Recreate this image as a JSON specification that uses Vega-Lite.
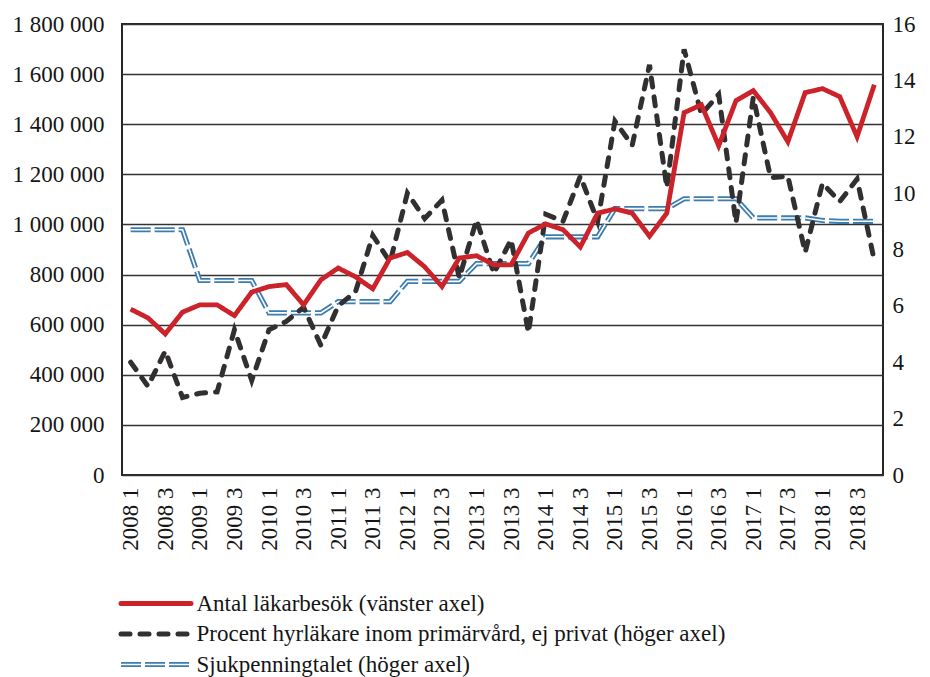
{
  "$schema": "https://vega.github.io/schema/vega-lite/v6.json",
  "autosize": "none",
  "width": 761,
  "height": 451,
  "padding": {"left": 122, "top": 24, "right": 47, "bottom": 202},
  "background": "white",
  "config": {
    "locale": {"number": {"decimal": ",", "thousands": " ", "grouping": [3], "currency": ["", ""]}},
    "font": "Liberation Serif",
    "view": {"stroke": "#262626", "strokeWidth": 2},
    "axis": {"labelFont": "Liberation Serif", "labelFontSize": 23, "labelColor": "#151515", "domain": false, "ticks": false, "title": null},
    "legend": {"labelFont": "Liberation Serif", "labelFontSize": 23, "labelColor": "#151515", "labelLimit": 0}
  },
  "data": {"values": [
    {"q": "2008 1", "lak": 662000, "hyr": 4.0, "sjuk": 8.7},
    {"q": "2008 2", "lak": 627000, "hyr": 3.15, "sjuk": 8.7},
    {"q": "2008 3", "lak": 563000, "hyr": 4.4, "sjuk": 8.7},
    {"q": "2008 4", "lak": 650000, "hyr": 2.75, "sjuk": 8.7},
    {"q": "2009 1", "lak": 679000, "hyr": 2.9, "sjuk": 6.9},
    {"q": "2009 2", "lak": 679000, "hyr": 2.95, "sjuk": 6.9},
    {"q": "2009 3", "lak": 636000, "hyr": 5.15, "sjuk": 6.9},
    {"q": "2009 4", "lak": 730000, "hyr": 3.35, "sjuk": 6.9},
    {"q": "2010 1", "lak": 752000, "hyr": 5.15, "sjuk": 5.75},
    {"q": "2010 2", "lak": 760000, "hyr": 5.45, "sjuk": 5.75},
    {"q": "2010 3", "lak": 679000, "hyr": 5.95, "sjuk": 5.75},
    {"q": "2010 4", "lak": 779000, "hyr": 4.6, "sjuk": 5.75},
    {"q": "2011 1", "lak": 826000, "hyr": 6.0, "sjuk": 6.15},
    {"q": "2011 2", "lak": 791000, "hyr": 6.5, "sjuk": 6.15},
    {"q": "2011 3", "lak": 743000, "hyr": 8.5, "sjuk": 6.15},
    {"q": "2011 4", "lak": 866000, "hyr": 7.55, "sjuk": 6.15},
    {"q": "2012 1", "lak": 888000, "hyr": 10.0, "sjuk": 6.87},
    {"q": "2012 2", "lak": 831000, "hyr": 9.1, "sjuk": 6.87},
    {"q": "2012 3", "lak": 752000, "hyr": 9.75, "sjuk": 6.87},
    {"q": "2012 4", "lak": 866000, "hyr": 7.0, "sjuk": 6.87},
    {"q": "2013 1", "lak": 875000, "hyr": 9.05, "sjuk": 7.5},
    {"q": "2013 2", "lak": 839000, "hyr": 7.15, "sjuk": 7.5},
    {"q": "2013 3", "lak": 839000, "hyr": 8.35, "sjuk": 7.5},
    {"q": "2013 4", "lak": 966000, "hyr": 5.05, "sjuk": 7.5},
    {"q": "2014 1", "lak": 1002000, "hyr": 9.25, "sjuk": 8.45},
    {"q": "2014 2", "lak": 979000, "hyr": 9.0, "sjuk": 8.45},
    {"q": "2014 3", "lak": 910000, "hyr": 10.6, "sjuk": 8.45},
    {"q": "2014 4", "lak": 1045000, "hyr": 9.0, "sjuk": 8.45},
    {"q": "2015 1", "lak": 1062000, "hyr": 12.55, "sjuk": 9.45},
    {"q": "2015 2", "lak": 1045000, "hyr": 11.7, "sjuk": 9.45},
    {"q": "2015 3", "lak": 953000, "hyr": 14.55, "sjuk": 9.45},
    {"q": "2015 4", "lak": 1045000, "hyr": 10.2, "sjuk": 9.45},
    {"q": "2016 1", "lak": 1446000, "hyr": 15.1, "sjuk": 9.8},
    {"q": "2016 2", "lak": 1478000, "hyr": 12.8, "sjuk": 9.8},
    {"q": "2016 3", "lak": 1314000, "hyr": 13.5, "sjuk": 9.8},
    {"q": "2016 4", "lak": 1494000, "hyr": 8.95, "sjuk": 9.8},
    {"q": "2017 1", "lak": 1534000, "hyr": 13.4, "sjuk": 9.12},
    {"q": "2017 2", "lak": 1446000, "hyr": 10.55, "sjuk": 9.12},
    {"q": "2017 3", "lak": 1330000, "hyr": 10.6, "sjuk": 9.12},
    {"q": "2017 4", "lak": 1526000, "hyr": 7.9, "sjuk": 9.12},
    {"q": "2018 1", "lak": 1542000, "hyr": 10.35, "sjuk": 9.03},
    {"q": "2018 2", "lak": 1510000, "hyr": 9.7, "sjuk": 9.0},
    {"q": "2018 3", "lak": 1350000, "hyr": 10.5, "sjuk": 9.0},
    {"q": "2018 4", "lak": 1558000, "hyr": 7.6, "sjuk": 9.0}
  ]},
  "transform": [{"fold": ["lak", "hyr", "sjuk"], "as": ["serie", "value"]}],
  "encoding": {
    "x": {
      "field": "q", "type": "ordinal", "sort": null,
      "scale": {"type": "point", "padding": 0.5},
      "axis": {
        "values": ["2008 1","2008 3","2009 1","2009 3","2010 1","2010 3","2011 1","2011 3","2012 1","2012 3","2013 1","2013 3","2014 1","2014 3","2015 1","2015 3","2016 1","2016 3","2017 1","2017 3","2018 1","2018 3"],
        "labelAngle": -90, "labelPadding": 12, "grid": false
      }
    }
  },
  "layer": [
    {
      "layer": [
        {
          "transform": [{"filter": "datum.serie === 'sjuk'"}],
          "mark": {"type": "line", "strokeWidth": 5.2, "strokeCap": "butt"},
          "encoding": {
            "y": {"field": "value", "type": "quantitative", "scale": {"domain": [0, 16]}, "axis": {"orient": "right", "values": [0,2,4,6,8,10,12,14,16], "labelPadding": 9, "grid": false}},
            "color": {"field": "serie", "type": "nominal", "scale": {"domain": ["lak", "hyr", "sjuk"], "range": ["#cc2229", "#322f30", "#3c7cae"]},
              "legend": {"title": null, "orient": "none", "legendX": -5, "legendY": 568, "symbolType": "M-7,0H7", "symbolSize": 100, "symbolStrokeWidth": 4.5, "symbolOffset": 27.5, "labelOffset": 29, "rowPadding": 6.5,
                "labelExpr": "datum.value === 'lak' ? 'Antal läkarbesök (vänster axel)' : datum.value === 'hyr' ? 'Procent hyrläkare inom primärvård, ej privat (höger axel)' : 'Sjukpenningtalet (höger axel)'",
                "encode": {"symbols": {"update": {
                  "shape": {"signal": "datum.value === 'sjuk' ? 'M-7,-0.32H7M-7,0.32H7' : 'M-7,0H7'"},
                  "strokeWidth": {"signal": "datum.value === 'sjuk' ? 1.6 : 5"},
                  "strokeCap": {"signal": "datum.value === 'sjuk' ? 'butt' : 'round'"},
                  "strokeDash": {"signal": "datum.value === 'sjuk' ? [17, 6] : datum.value === 'hyr' ? [11, 9] : [1, 0]"}
                }}}}},
            "strokeDash": {"field": "serie", "type": "nominal", "scale": {"domain": ["lak", "hyr", "sjuk"], "range": [[1, 0], [9, 10], [20, 4]]},
              "legend": {"title": null, "orient": "none", "legendX": -5, "legendY": 568, "symbolType": "M-7,0H7", "symbolSize": 100, "symbolStrokeWidth": 4.5, "symbolOffset": 27.5, "labelOffset": 29, "rowPadding": 6.5,
                "labelExpr": "datum.value === 'lak' ? 'Antal läkarbesök (vänster axel)' : datum.value === 'hyr' ? 'Procent hyrläkare inom primärvård, ej privat (höger axel)' : 'Sjukpenningtalet (höger axel)'",
                "encode": {"symbols": {"update": {
                  "shape": {"signal": "datum.value === 'sjuk' ? 'M-7,-0.32H7M-7,0.32H7' : 'M-7,0H7'"},
                  "strokeWidth": {"signal": "datum.value === 'sjuk' ? 1.6 : 5"},
                  "strokeCap": {"signal": "datum.value === 'sjuk' ? 'butt' : 'round'"},
                  "strokeDash": {"signal": "datum.value === 'sjuk' ? [17, 6] : datum.value === 'hyr' ? [11, 9] : [1, 0]"}
                }}}}}
          }
        },
        {
          "transform": [{"filter": "datum.serie === 'sjuk'"}],
          "mark": {"type": "line", "strokeWidth": 1.6, "color": "white", "strokeDash": [20, 4], "strokeCap": "butt"},
          "encoding": {"y": {"field": "value", "type": "quantitative"}}
        },
        {
          "transform": [{"filter": "datum.serie === 'hyr'"}],
          "mark": {"type": "line", "strokeWidth": 5, "strokeCap": "round"},
          "encoding": {
            "y": {"field": "value", "type": "quantitative"},
            "color": {"field": "serie", "type": "nominal"},
            "strokeDash": {"field": "serie", "type": "nominal"}
          }
        }
      ]
    },
    {
      "transform": [{"filter": "datum.serie === 'lak'"}],
      "mark": {"type": "line", "strokeWidth": 4.8},
      "encoding": {
        "y": {"field": "value", "type": "quantitative", "scale": {"domain": [0, 1800000]}, "axis": {"orient": "left", "values": [0,200000,400000,600000,800000,1000000,1200000,1400000,1600000,1800000], "format": ",d", "labelPadding": 18, "grid": true, "gridColor": "#333333", "gridWidth": 1.3, "gridOpacity": 1}},
        "color": {"field": "serie", "type": "nominal"},
        "strokeDash": {"field": "serie", "type": "nominal"}
      }
    }
  ],
  "resolve": {"scale": {"y": "independent"}}
}
